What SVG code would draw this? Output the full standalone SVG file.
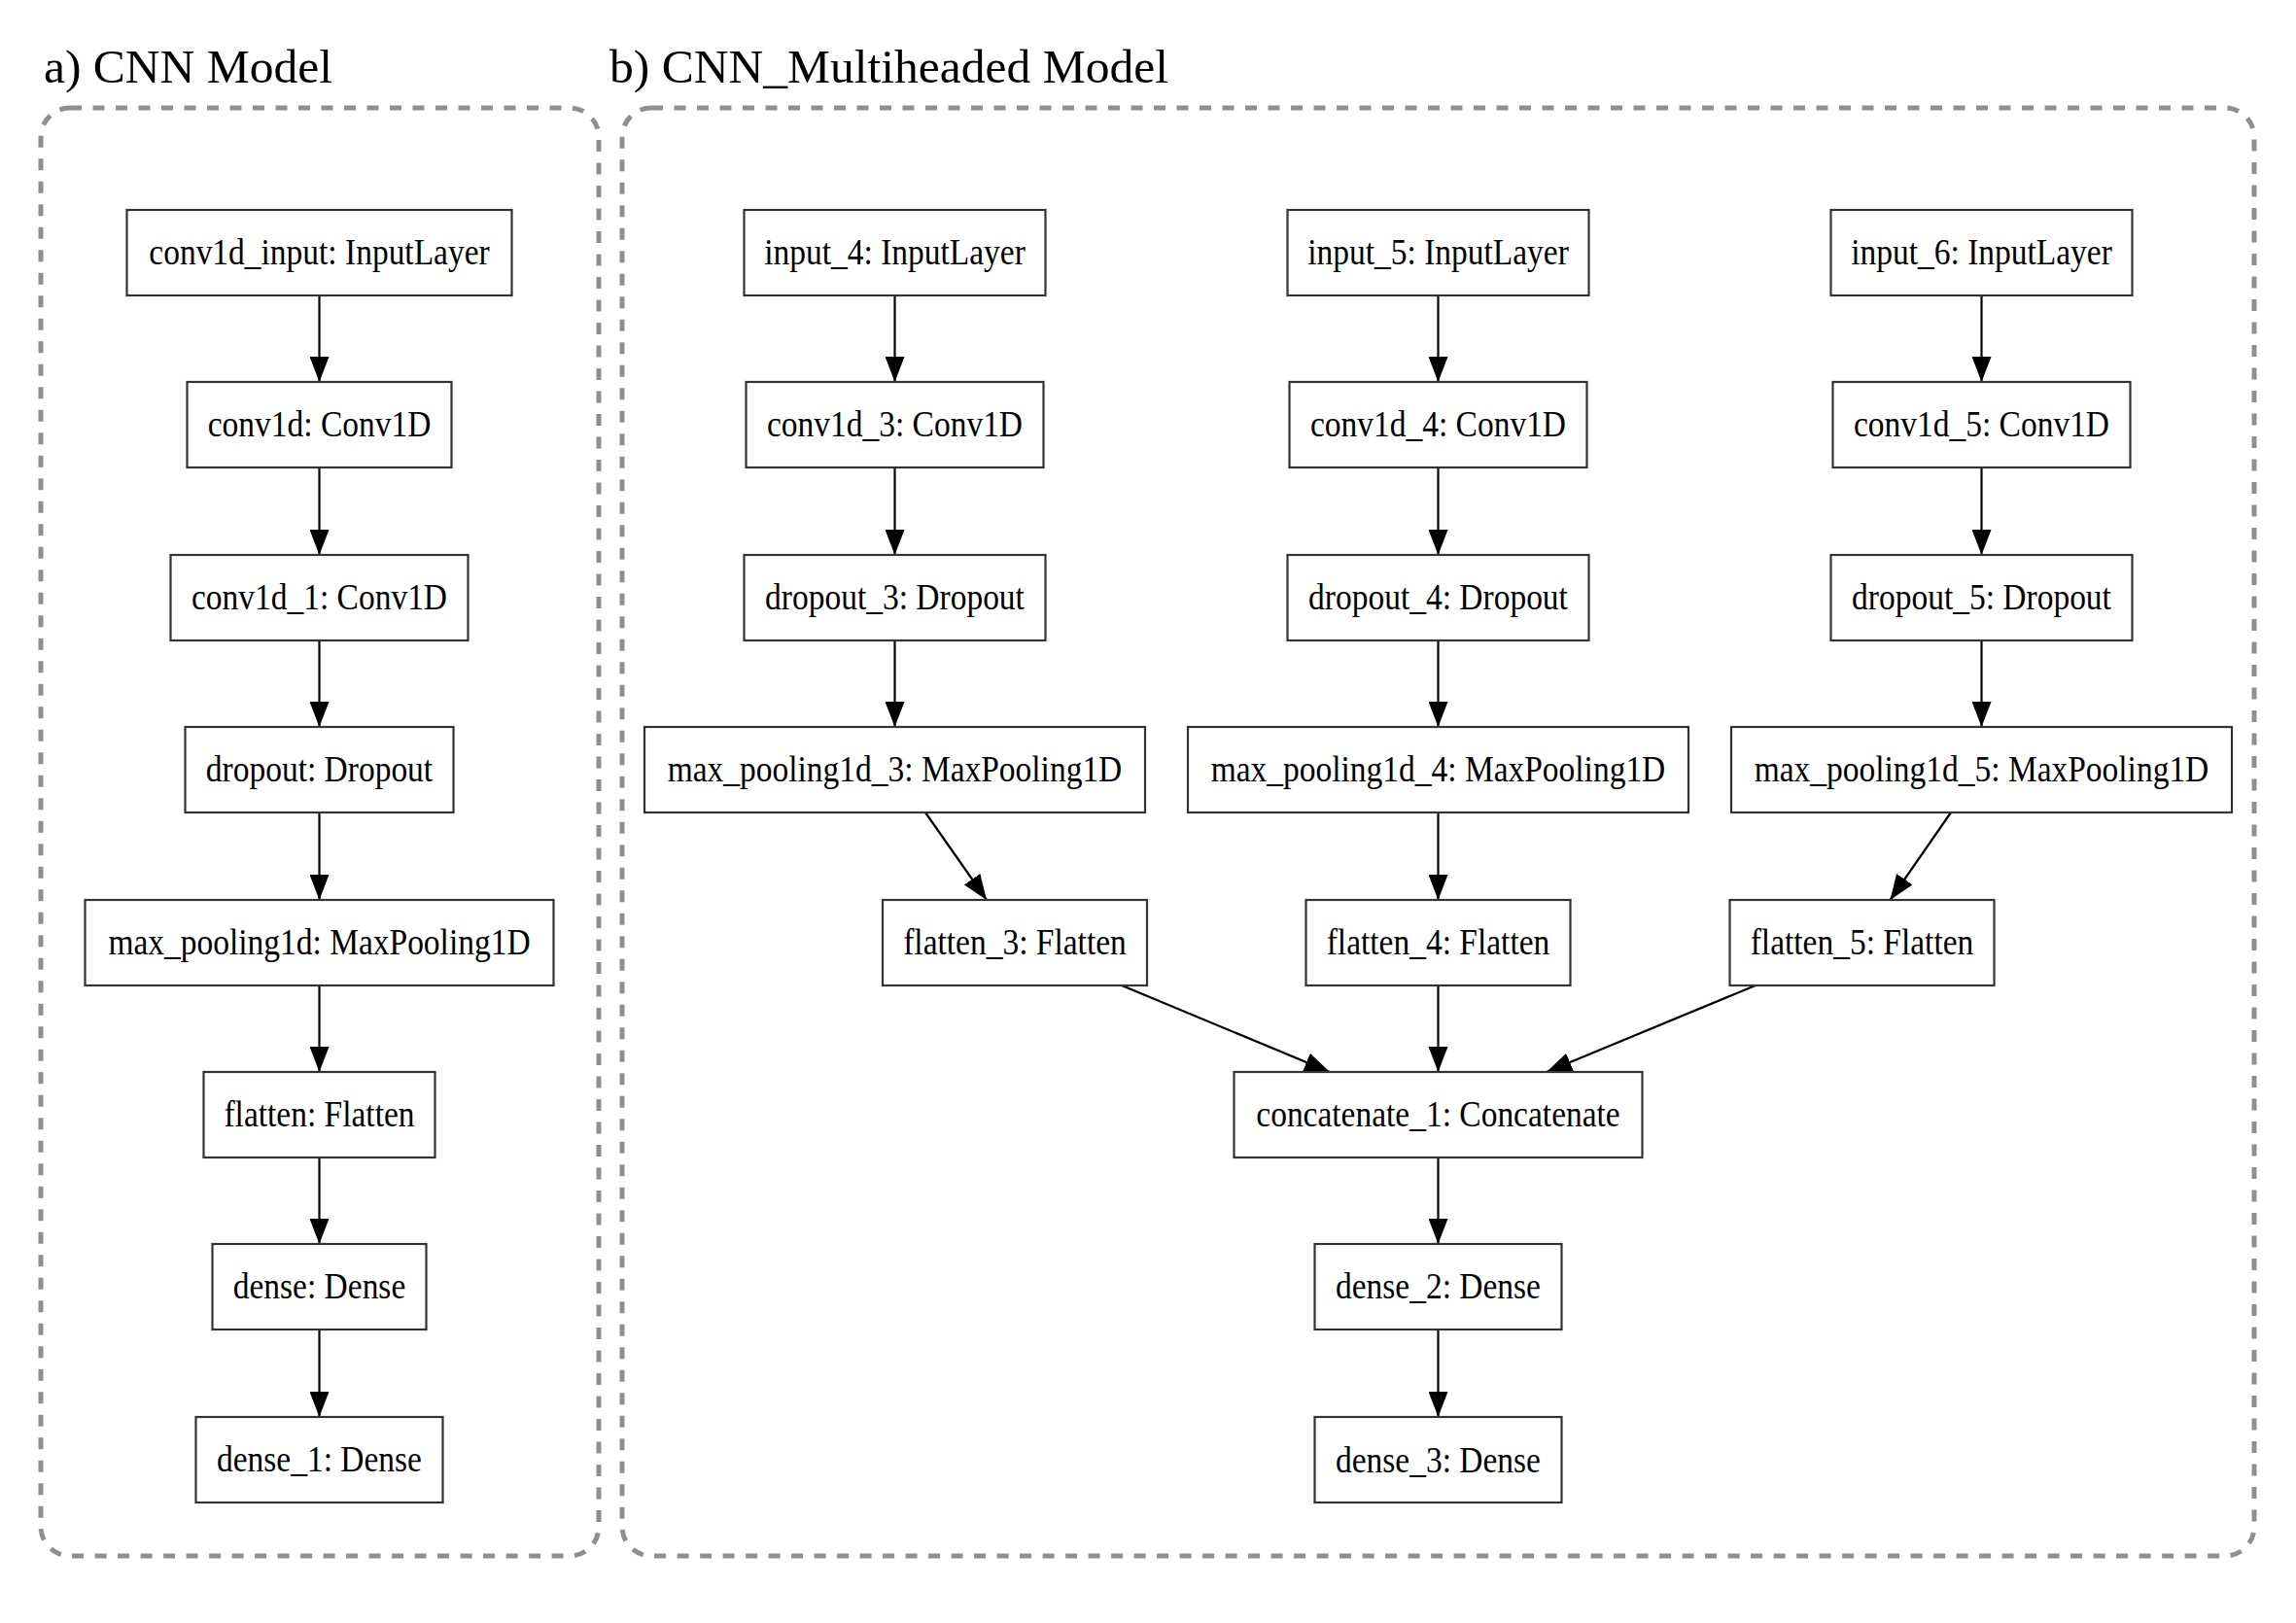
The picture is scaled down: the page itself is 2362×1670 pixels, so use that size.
<svg xmlns="http://www.w3.org/2000/svg" width="2362" height="1670" viewBox="0 0 2362 1670">
<style>
.bg{fill:#ffffff}
.panel{fill:none;stroke:#8f8f8f;stroke-width:5;stroke-dasharray:12 11.5}
.title{font-family:"Liberation Serif","Times New Roman",serif;font-size:49px;fill:#000}
.node rect{fill:#ffffff;stroke:#333333;stroke-width:2.2}
.node text{font-family:"Liberation Serif","Times New Roman",serif;font-size:37px;fill:#000;text-anchor:middle}
.edge{fill:none;stroke:#000;stroke-width:2.2;marker-end:url(#arr)}
</style>
<defs>
<marker id="arr" viewBox="0 0 26 20" refX="26" refY="10" markerWidth="26" markerHeight="20" markerUnits="userSpaceOnUse" orient="auto">
<path d="M0,0 L26,10 L0,20 z" fill="#000"/>
</marker>
</defs>
<rect class="bg" x="0" y="0" width="2362" height="1670"/>

<text class="title" x="45" y="85" textLength="297" lengthAdjust="spacingAndGlyphs">a) CNN Model</text>
<text class="title" x="627" y="85" textLength="575" lengthAdjust="spacingAndGlyphs">b) CNN_Multiheaded Model</text>

<rect id="panel-a" class="panel" x="42" y="111" width="574" height="1490" rx="30" ry="30"/>
<rect id="panel-b" class="panel" x="640" y="111" width="1679" height="1490" rx="30" ry="30"/>

<g id="connectors">
<line class="edge" x1="328.5" y1="304" x2="328.5" y2="393"/>
<line class="edge" x1="328.5" y1="481" x2="328.5" y2="571"/>
<line class="edge" x1="328.5" y1="659" x2="328.5" y2="748"/>
<line class="edge" x1="328.5" y1="836" x2="328.5" y2="926"/>
<line class="edge" x1="328.5" y1="1014" x2="328.5" y2="1103"/>
<line class="edge" x1="328.5" y1="1191" x2="328.5" y2="1280"/>
<line class="edge" x1="328.5" y1="1368" x2="328.5" y2="1458"/>
<line class="edge" x1="920.5" y1="304" x2="920.5" y2="393"/>
<line class="edge" x1="920.5" y1="481" x2="920.5" y2="571"/>
<line class="edge" x1="920.5" y1="659" x2="920.5" y2="748"/>
<line class="edge" x1="952" y1="836" x2="1015" y2="926"/>
<line class="edge" x1="1479.5" y1="304" x2="1479.5" y2="393"/>
<line class="edge" x1="1479.5" y1="481" x2="1479.5" y2="571"/>
<line class="edge" x1="1479.5" y1="659" x2="1479.5" y2="748"/>
<line class="edge" x1="1479.5" y1="836" x2="1479.5" y2="926"/>
<line class="edge" x1="2038.5" y1="304" x2="2038.5" y2="393"/>
<line class="edge" x1="2038.5" y1="481" x2="2038.5" y2="571"/>
<line class="edge" x1="2038.5" y1="659" x2="2038.5" y2="748"/>
<line class="edge" x1="2007" y1="836" x2="1944.5" y2="926"/>
<line class="edge" x1="1154" y1="1014" x2="1368" y2="1103"/>
<line class="edge" x1="1479.5" y1="1014" x2="1479.5" y2="1103"/>
<line class="edge" x1="1806" y1="1014" x2="1591" y2="1103"/>
<line class="edge" x1="1479.5" y1="1191" x2="1479.5" y2="1280"/>
<line class="edge" x1="1479.5" y1="1368" x2="1479.5" y2="1458"/>
</g>

<g id="conv1d_input" class="node"><rect x="130.5" y="216" width="396" height="88"/><text transform="translate(328.5,272) scale(0.905,1)">conv1d_input: InputLayer</text></g>
<g id="conv1d" class="node"><rect x="192.5" y="393" width="272" height="88"/><text transform="translate(328.5,449) scale(0.905,1)">conv1d: Conv1D</text></g>
<g id="conv1d_1" class="node"><rect x="175.5" y="571" width="306" height="88"/><text transform="translate(328.5,627) scale(0.905,1)">conv1d_1: Conv1D</text></g>
<g id="dropout" class="node"><rect x="190.5" y="748" width="276" height="88"/><text transform="translate(328.5,804) scale(0.905,1)">dropout: Dropout</text></g>
<g id="max_pooling1d" class="node"><rect x="87.5" y="926" width="482" height="88"/><text transform="translate(328.5,982) scale(0.905,1)">max_pooling1d: MaxPooling1D</text></g>
<g id="flatten" class="node"><rect x="209.5" y="1103" width="238" height="88"/><text transform="translate(328.5,1159) scale(0.905,1)">flatten: Flatten</text></g>
<g id="dense" class="node"><rect x="218.5" y="1280" width="220" height="88"/><text transform="translate(328.5,1336) scale(0.905,1)">dense: Dense</text></g>
<g id="dense_1" class="node"><rect x="201.5" y="1458" width="254" height="88"/><text transform="translate(328.5,1514) scale(0.905,1)">dense_1: Dense</text></g>

<g id="input_4" class="node"><rect x="765.5" y="216" width="310" height="88"/><text transform="translate(920.5,272) scale(0.905,1)">input_4: InputLayer</text></g>
<g id="conv1d_3" class="node"><rect x="767.5" y="393" width="306" height="88"/><text transform="translate(920.5,449) scale(0.905,1)">conv1d_3: Conv1D</text></g>
<g id="dropout_3" class="node"><rect x="765.5" y="571" width="310" height="88"/><text transform="translate(920.5,627) scale(0.905,1)">dropout_3: Dropout</text></g>
<g id="max_pooling1d_3" class="node"><rect x="663" y="748" width="515" height="88"/><text transform="translate(920.5,804) scale(0.905,1)">max_pooling1d_3: MaxPooling1D</text></g>
<g id="flatten_3" class="node"><rect x="908" y="926" width="272" height="88"/><text transform="translate(1044,982) scale(0.905,1)">flatten_3: Flatten</text></g>

<g id="input_5" class="node"><rect x="1324.5" y="216" width="310" height="88"/><text transform="translate(1479.5,272) scale(0.905,1)">input_5: InputLayer</text></g>
<g id="conv1d_4" class="node"><rect x="1326.5" y="393" width="306" height="88"/><text transform="translate(1479.5,449) scale(0.905,1)">conv1d_4: Conv1D</text></g>
<g id="dropout_4" class="node"><rect x="1324.5" y="571" width="310" height="88"/><text transform="translate(1479.5,627) scale(0.905,1)">dropout_4: Dropout</text></g>
<g id="max_pooling1d_4" class="node"><rect x="1222" y="748" width="515" height="88"/><text transform="translate(1479.5,804) scale(0.905,1)">max_pooling1d_4: MaxPooling1D</text></g>
<g id="flatten_4" class="node"><rect x="1343.5" y="926" width="272" height="88"/><text transform="translate(1479.5,982) scale(0.905,1)">flatten_4: Flatten</text></g>

<g id="input_6" class="node"><rect x="1883.5" y="216" width="310" height="88"/><text transform="translate(2038.5,272) scale(0.905,1)">input_6: InputLayer</text></g>
<g id="conv1d_5" class="node"><rect x="1885.5" y="393" width="306" height="88"/><text transform="translate(2038.5,449) scale(0.905,1)">conv1d_5: Conv1D</text></g>
<g id="dropout_5" class="node"><rect x="1883.5" y="571" width="310" height="88"/><text transform="translate(2038.5,627) scale(0.905,1)">dropout_5: Dropout</text></g>
<g id="max_pooling1d_5" class="node"><rect x="1781" y="748" width="515" height="88"/><text transform="translate(2038.5,804) scale(0.905,1)">max_pooling1d_5: MaxPooling1D</text></g>
<g id="flatten_5" class="node"><rect x="1779.5" y="926" width="272" height="88"/><text transform="translate(1915.5,982) scale(0.905,1)">flatten_5: Flatten</text></g>

<g id="concatenate_1" class="node"><rect x="1269.5" y="1103" width="420" height="88"/><text transform="translate(1479.5,1159) scale(0.905,1)">concatenate_1: Concatenate</text></g>
<g id="dense_2" class="node"><rect x="1352.5" y="1280" width="254" height="88"/><text transform="translate(1479.5,1336) scale(0.905,1)">dense_2: Dense</text></g>
<g id="dense_3" class="node"><rect x="1352.5" y="1458" width="254" height="88"/><text transform="translate(1479.5,1515) scale(0.905,1)">dense_3: Dense</text></g>
</svg>
